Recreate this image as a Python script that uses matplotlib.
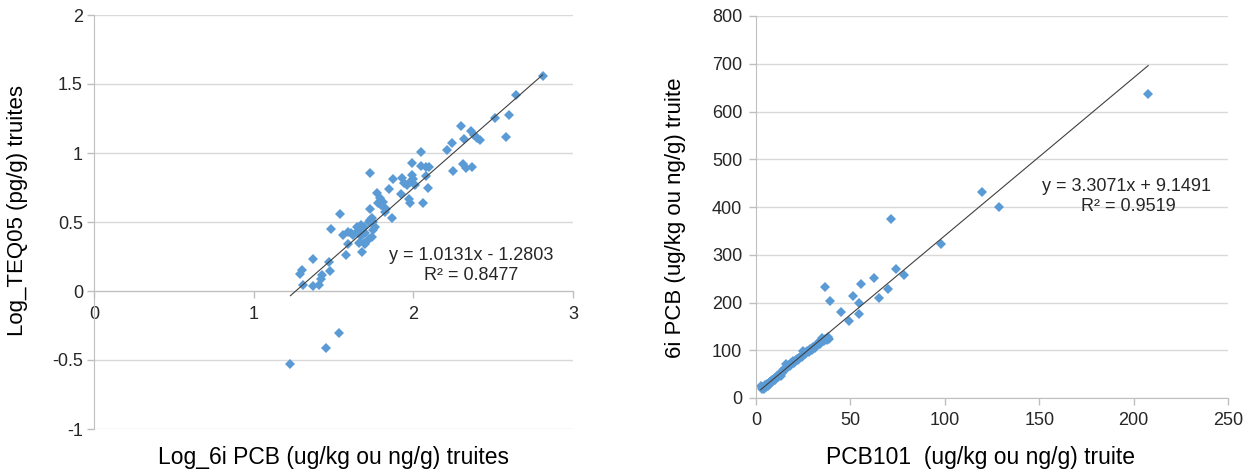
import matplotlib
matplotlib.use("Agg")
import matplotlib.pyplot as plt
import numpy as np

plt.rcParams['font.family'] = ['Liberation Sans', 'DejaVu Sans']

# === Left chart : Log_6i PCB vs Log_TEQ05 ===
log_pcb = [2.81, 2.64, 2.51, 2.60, 2.58, 2.30, 2.36, 2.32, 2.40, 2.42, 2.38, 2.24, 2.21,
           2.25, 2.31, 2.33, 2.37,
           2.05, 1.99, 2.05, 2.08, 2.10, 1.73, 1.875, 1.93, 1.94, 1.96, 1.99, 2.00, 1.98,
           2.01, 2.08, 2.09, 1.85, 1.77, 1.79, 1.78, 1.80, 1.81, 1.92, 1.97, 1.98, 2.06,
           1.54, 1.73, 1.83, 1.82, 1.865, 1.74, 1.72, 1.75, 1.67, 1.69, 1.65, 1.76,
           1.485, 1.56, 1.59, 1.61, 1.625, 1.65, 1.67, 1.73, 1.75, 1.70, 1.67, 1.66, 1.69,
           1.74, 1.58, 1.68, 1.37, 1.47, 1.475, 1.30, 1.29, 1.43, 1.42, 1.31, 1.37, 1.41,
           1.59, 1.70, 1.72,
           1.23, 1.45, 1.535]
log_teq = [1.556, 1.42, 1.256, 1.273, 1.114, 1.195, 1.163, 1.105, 1.11, 1.097, 1.127, 1.073, 1.024,
           0.87, 0.92, 0.89, 0.897,
           1.005, 0.925, 0.906, 0.90, 0.896, 0.857, 0.81, 0.817, 0.785, 0.768, 0.84, 0.81, 0.79,
           0.768, 0.83, 0.744, 0.737, 0.708, 0.672, 0.64, 0.623, 0.647, 0.703, 0.664, 0.64, 0.64,
           0.558, 0.592, 0.592, 0.575, 0.531, 0.527, 0.502, 0.502, 0.478, 0.462, 0.462, 0.462,
           0.447, 0.406, 0.43, 0.418, 0.406, 0.43, 0.454, 0.514, 0.442, 0.418, 0.399, 0.346, 0.35,
           0.393, 0.261, 0.285, 0.23, 0.212, 0.147, 0.152, 0.123, 0.116, 0.085, 0.043, 0.036, 0.043,
           0.342, 0.342, 0.378,
           -0.53, -0.41, -0.305]
fit_left = (1.0131, -1.2803)

# === Right chart : PCB101 vs 6i PCB ===
pcb101 = [2.5, 3.0, 3.4, 4.0, 4.2, 4.8, 5.1, 5.5, 6.0, 6.3, 6.8, 7.2, 7.5, 8.0, 8.3, 8.9,
          9.4, 9.8, 10.2, 10.7, 11.3, 11.8, 12.1, 12.6, 13.1, 13.5, 14.0, 14.4, 14.8, 15.3,
          15.7, 16.2, 16.8, 17.5, 18.0, 18.4, 19.1, 19.8, 20.3, 21.0, 21.6, 22.3, 23.0, 23.6,
          24.4, 25.1, 25.8, 26.5, 27.2, 28.0, 28.8, 29.5, 30.3, 31.0, 31.7, 32.5, 33.3, 34.0,
          34.6, 35.2, 35.9, 36.6, 37.4, 38.1, 38.8,
          36.8, 39.2, 44.9, 49.0, 51.4, 54.6, 54.6, 55.5, 62.6, 64.9, 70.0, 71.3, 74.4, 78.6,
          98.2, 119.6, 128.8, 207.7]
pcb6i = [26, 18, 22, 24, 19, 27, 23, 28, 30, 26, 31, 34, 30, 35, 38, 36,
         40, 41, 38, 44, 46, 43, 48, 50, 47, 55, 53, 57, 60, 58,
         72, 64, 66, 70, 68, 73, 74, 77, 74, 80, 82, 79, 84, 88,
         86, 98, 92, 95, 98, 97, 102, 100, 106, 104, 112, 110, 118, 114,
         122, 126, 119, 124, 121, 127, 124,
         232, 204, 180, 162, 213, 198, 175, 238, 252, 209, 229, 375, 271, 257,
         322, 431, 401, 637]
fit_right = (3.3071, 9.1491)

blue = '#5B9BD5'
grid_c = '#D9D9D9'
axis_c = '#BFBFBF'
txt_c = '#262626'

fig = plt.figure(figsize=(12.56, 4.75), dpi=100)
ax1 = fig.add_axes([94 / 1256, 1 - 429 / 475, 479 / 1256, 414 / 475])
ax2 = fig.add_axes([756 / 1256, 1 - 398 / 475, 472 / 1256, 382 / 475])

for ax in (ax1, ax2):
    ax.set_axisbelow(True)
    ax.yaxis.grid(True, color=grid_c, linewidth=1)
    for s in ('top', 'right'):
        ax.spines[s].set_visible(False)
    ax.spines['left'].set_color(axis_c)
    ax.spines['bottom'].set_color(axis_c)
    ax.tick_params(colors=axis_c, labelcolor=txt_c, labelsize=13, length=5, width=1)

# left
ax1.plot(log_pcb, log_teq, 'D', color=blue, markersize=4.6, markeredgewidth=0, zorder=2)
xl = np.array([min(log_pcb), max(log_pcb)])
ax1.plot(xl, fit_left[0] * xl + fit_left[1], color='#404040', linewidth=0.8, zorder=3)
ax1.set_xlim(0, 3)
ax1.set_ylim(-1, 2)
ax1.set_xticks([0, 1, 2, 3])
ax1.set_yticks([-1, -0.5, 0, 0.5, 1, 1.5, 2])
ax1.set_yticklabels(['-1', '-0.5', '0', '0.5', '1', '1.5', '2'])
ax1.spines['bottom'].set_position(('data', 0))
ax1.tick_params(axis='x', pad=6)
ax1.tick_params(axis='y', pad=3)
ax1.text(2.36, 0.26, 'y = 1.0131x - 1.2803', ha='center', va='center', fontsize=13, color=txt_c)
ax1.text(2.36, 0.11, 'R² = 0.8477', ha='center', va='center', fontsize=13, color=txt_c)
ax1.set_xlabel('Log_6i PCB (ug/kg ou ng/g) truites', fontsize=16.5, color='black')
ax1.set_ylabel('Log_TEQ05 (pg/g) truites', fontsize=16, color='black')
ax1.xaxis.set_label_coords(0.499, -0.070)
ax1.xaxis.label.set_va('center')
ax1.yaxis.set_label_coords(-0.159, 0.527)
ax1.yaxis.label.set_va('center')

# right
ax2.plot(pcb101, pcb6i, 'D', color=blue, markersize=4.6, markeredgewidth=0, zorder=2)
xr = np.array([min(pcb101), max(pcb101)])
ax2.plot(xr, fit_right[0] * xr + fit_right[1], color='#404040', linewidth=0.8, zorder=3)
ax2.set_xlim(0, 250)
ax2.set_ylim(0, 800)
ax2.set_xticks(range(0, 251, 50))
ax2.set_yticks(range(0, 801, 100))
ax2.tick_params(axis='x', pad=5)
ax2.tick_params(axis='y', pad=5)
ax2.text(196, 442, 'y = 3.3071x + 9.1491', ha='center', va='center', fontsize=13, color=txt_c)
ax2.text(197, 401, 'R² = 0.9519', ha='center', va='center', fontsize=13, color=txt_c)
ax2.set_xlabel('PCB101  (ug/kg ou ng/g) truite', fontsize=16.5, color='black')
ax2.set_ylabel('6i PCB (ug/kg ou ng/g) truite', fontsize=16, color='black')
ax2.xaxis.set_label_coords(0.4746, -0.157)
ax2.xaxis.label.set_va('center')
ax2.yaxis.set_label_coords(-0.1695, 0.471)
ax2.yaxis.label.set_va('center')

plt.savefig('out.png', dpi=100)
